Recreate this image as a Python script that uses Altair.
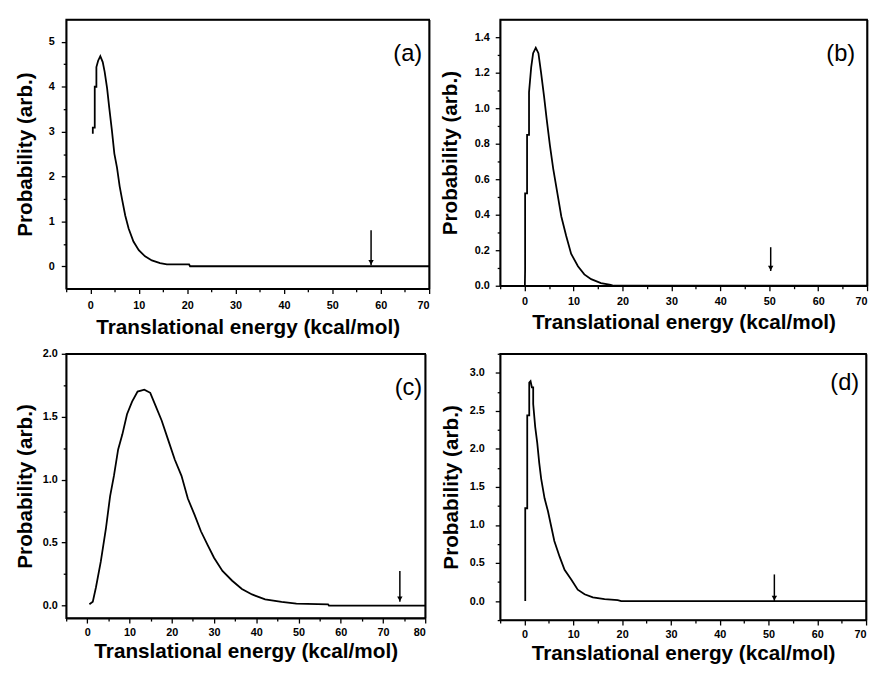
import altair as alt
import pandas as pd

# ---------------- data ----------------
a_x = [0.5, 0.5, 0.9, 0.9, 1.24, 1.24, 1.6, 2.05, 2.55, 2.95, 3.45, 3.9, 4.45, 4.95, 5.5, 6.05,
       6.55, 7.2, 7.9, 8.9, 10.0, 11.3, 12.7, 14.4, 15.8, 20.4, 20.6, 70.0]
a_y = [2.95, 3.09, 3.09, 4.0, 4.0, 4.44, 4.58, 4.68, 4.55, 4.33, 3.97, 3.53, 3.02, 2.51, 2.2, 1.78,
       1.49, 1.13, 0.84, 0.55, 0.36, 0.22, 0.13, 0.07, 0.04, 0.04, 0.0, 0.0]

b_x = [0.05, 0.1, 0.1, 0.5, 0.5, 0.9, 0.9, 1.34, 1.74, 2.28, 2.82, 3.36, 3.96, 4.5, 5.17, 5.84,
       6.7, 7.5, 8.5, 9.5, 10.9, 12.2, 13.6, 15.6, 17.6, 18.2, 70.0]
b_y = [0.0, 0.09, 0.52, 0.52, 0.85, 0.85, 1.09, 1.23, 1.31, 1.34, 1.31, 1.2, 1.07, 0.94, 0.79, 0.66,
       0.52, 0.39, 0.28, 0.18, 0.11, 0.064, 0.037, 0.015, 0.005, 0.0, 0.0]

c_x = [0.5, 1.3, 2.05, 3.2, 4.4, 5.4, 6.3, 7.3, 8.3, 9.4, 10.6, 11.9, 13.5, 14.9, 16.0, 17.6,
       19.2, 20.7, 22.3, 23.8, 25.4, 26.9, 28.5, 30.0, 32.0, 34.3, 36.6, 39.0, 42.1, 46.0, 49.5,
       57.0, 57.2, 80.0]
c_y = [0.01, 0.03, 0.145, 0.35, 0.61, 0.87, 1.03, 1.24, 1.36, 1.52, 1.62, 1.70, 1.715, 1.69, 1.60, 1.47,
       1.31, 1.16, 1.03, 0.85, 0.72, 0.59, 0.48, 0.38, 0.275, 0.197, 0.132, 0.088, 0.049, 0.029, 0.015,
       0.01, 0.0, 0.0]

d_x = [0.14, 0.14, 0.55, 0.55, 0.96, 0.96, 1.23, 1.5, 1.77, 1.77, 2.18, 2.6, 3.0, 3.4, 4.1, 4.8,
       5.5, 6.1, 7.2, 8.2, 9.6, 10.9, 12.3, 14.0, 16.4, 19.1, 19.8, 70.0]
d_y = [0.0, 1.22, 1.22, 2.44, 2.44, 2.87, 2.89, 2.81, 2.81, 2.59, 2.29, 2.08, 1.82, 1.61, 1.35, 1.18,
       0.97, 0.79, 0.58, 0.41, 0.28, 0.15, 0.09, 0.048, 0.026, 0.013, 0.0, 0.0]

# arrows: x position, top of shaft, tip
arrow_x = [58.0, 50.3, 74.0, 51.2]
arrow_top = [0.8, 0.217, 0.275, 0.35]
arrow_tip = [0.02, 0.083, 0.03, 0.0]

panel_labels = ["(a)", "(b)", "(c)", "(d)"]

# major (labelled) and minor ticks
x_major_70 = [0, 10, 20, 30, 40, 50, 60, 70]
x_minor_70 = [-5, 5, 15, 25, 35, 45, 55, 65]
x_major_80 = [0, 10, 20, 30, 40, 50, 60, 70, 80]
x_minor_80 = [-5, 5, 15, 25, 35, 45, 55, 65, 75]
a_y_major = [0, 1, 2, 3, 4, 5]
a_y_minor = [0.5, 1.5, 2.5, 3.5, 4.5]
b_y_major = [0.0, 0.2, 0.4, 0.6, 0.8, 1.0, 1.2, 1.4]
b_y_minor = [0.1, 0.3, 0.5, 0.7, 0.9, 1.1, 1.3]
c_y_major = [0.0, 0.5, 1.0, 1.5, 2.0]
c_y_minor = [0.25, 0.75, 1.25, 1.75]
d_y_major = [0.0, 0.5, 1.0, 1.5, 2.0, 2.5, 3.0]
d_y_minor = [-0.25, 0.25, 0.75, 1.25, 1.75, 2.25, 2.75, 3.25]

X_TITLE = "Translational energy (kcal/mol)"
Y_TITLE = "Probability (arb.)"
FONT = "Liberation Sans"
DOM = dict(domain=True, domainColor="black", domainWidth=1.6)


def panel(xs, ys, xdom, ydom, xmaj, xmin, ymaj, ymin, yfmt, k, w, h, lab_x, lab_y,
          ylabpad, ytitlepad, xlabpad, xtitlepad):
    df = pd.DataFrame({"x": xs, "y": ys, "i": list(range(len(xs)))})
    xscale = alt.Scale(domain=xdom, nice=False, zero=False)
    yscale = alt.Scale(domain=ydom, nice=False, zero=False)
    xaxis = alt.Axis(values=xmaj, format="d", title=X_TITLE, orient="bottom",
                     tickSize=5, labelPadding=xlabpad, titlePadding=xtitlepad,
                     labelOverlap=False, labelFlush=True, **DOM)
    yaxis = alt.Axis(values=ymaj, format=yfmt, title=Y_TITLE, orient="left",
                     tickSize=5, labelPadding=ylabpad, titlePadding=ytitlepad,
                     labelOverlap=False, **DOM)
    line = alt.Chart(df).mark_line(color="black", strokeWidth=1.8).encode(
        x=alt.X("x:Q", scale=xscale, axis=xaxis),
        y=alt.Y("y:Q", scale=yscale, axis=yaxis),
        order="i:Q",
    )
    minor = alt.Chart(df).mark_line(opacity=0).encode(
        x=alt.X("x:Q", scale=xscale,
                axis=alt.Axis(values=xmin, labels=False, title=None, orient="bottom",
                              tickSize=3, domain=False)),
        y=alt.Y("y:Q", scale=yscale,
                axis=alt.Axis(values=ymin, labels=False, title=None, orient="left",
                              tickSize=3, domain=False)),
        order="i:Q",
    )
    box = alt.Chart(df).mark_line(opacity=0).encode(
        x=alt.X("x:Q", scale=xscale,
                axis=alt.Axis(labels=False, ticks=False, title=None, orient="top", **DOM)),
        y=alt.Y("y:Q", scale=yscale,
                axis=alt.Axis(labels=False, ticks=False, title=None, orient="right", **DOM)),
        order="i:Q",
    )
    adf = pd.DataFrame({"ax": [arrow_x[k]], "yt": [arrow_top[k]], "yb": [arrow_tip[k]]})
    shaft = alt.Chart(adf).mark_rule(color="black", strokeWidth=1.5).encode(
        x=alt.X("ax:Q", scale=xscale, axis=None),
        y=alt.Y("yt:Q", scale=yscale, axis=None),
        y2="yb:Q",
    )
    head = alt.Chart(adf).mark_point(shape="triangle-down", filled=True, color="black",
                                     opacity=1, size=30, yOffset=-3).encode(
        x=alt.X("ax:Q", scale=xscale, axis=None),
        y=alt.Y("yb:Q", scale=yscale, axis=None),
    )
    tdf = pd.DataFrame({"t": [panel_labels[k]]})
    text = alt.Chart(tdf).mark_text(font=FONT, fontSize=24, align="right", baseline="middle",
                                    color="black").encode(
        text="t:N", x=alt.value(lab_x), y=alt.value(lab_y)
    )
    return alt.layer(line, minor, box, shaft, head, text).resolve_axis(
        x="independent", y="independent"
    ).properties(width=w, height=h)


pa = panel(a_x, a_y, [-5, 70], [-0.5, 5.5], x_major_70, x_minor_70, a_y_major, a_y_minor,
           "d", 0, 368, 273, 361, 35, 7, 13, 6, 6)
pb = panel(b_x, b_y, [-5, 70], [0, 1.5], x_major_70, x_minor_70, b_y_major, b_y_minor,
           ".1f", 1, 372, 270, 360, 35, 6, 14, 5, 5)
pc = panel(c_x, c_y, [-5, 80], [-0.1, 2.0], x_major_80, x_minor_80, c_y_major, c_y_minor,
           ".1f", 2, 364, 268, 361, 35, 4, 7, 4, 3)
pd_ = panel(d_x, d_y, [-5, 70], [-0.25, 3.25], x_major_70, x_minor_70, d_y_major, d_y_minor,
            ".1f", 3, 371, 270, 364, 30, 11, 8, 4, 3)

chart = alt.concat(
    pa, pb, pc, pd_, columns=2, spacing={"row": 66, "column": 72}, bounds="flush"
).properties(
    padding={"left": 5, "top": 6, "right": 0, "bottom": 0}
).configure_view(
    stroke="black", strokeWidth=1.6
).configure_axis(
    tickColor="black", tickWidth=1.3,
    labelColor="black", labelFont=FONT, labelFontSize=11, labelFontWeight="bold",
    titleColor="black", titleFont=FONT, titleFontSize=21, titleFontWeight="bold",
    grid=False,
)

chart.save("out.html", embed_options={"renderer": "svg", "actions": False})
